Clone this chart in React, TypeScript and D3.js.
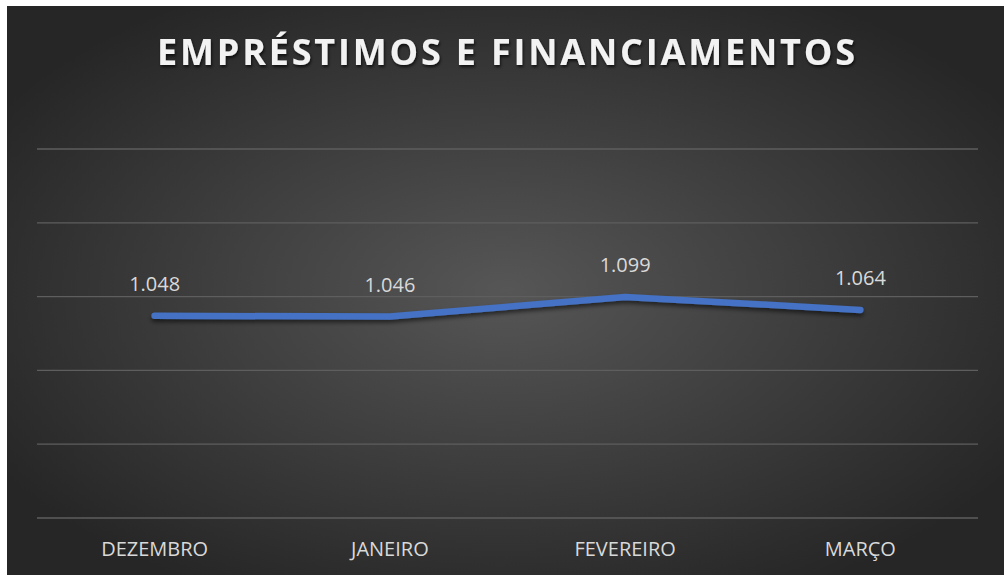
import React from "react";
import * as d3 from "d3";

const categories = ["DEZEMBRO", "JANEIRO", "FEVEREIRO", "MARÇO"];
const values = [1048, 1046, 1099, 1064];
const valueLabels = ["1.048", "1.046", "1.099", "1.064"];
const yTicks = [500, 700, 900, 1100, 1300, 1500];
const title = "EMPRÉSTIMOS E FINANCIAMENTOS";

export default function App() {
  const W = 1004, H = 575;
  const left = 37, right = 978, top = 149, bottom = 518;
  const x = d3.scaleBand<string>().domain(categories).range([left, right]);
  const y = d3.scaleLinear().domain([500, 1500]).range([bottom, top]);
  const line = d3
    .line<number>()
    .x((_, i) => (x(categories[i]) as number) + x.bandwidth() / 2)
    .y((d) => y(d));
  const font = "'Open Sans', 'Noto Sans', sans-serif";
  const tx0 = 157, tw = 698;
  return (
    <svg
      width={W}
      height={H}
      style={{ position: "absolute", left: 0, top: 0, display: "block" }}
    >
      <defs>
        <radialGradient id="bg" cx="50%" cy="50%" r="60%">
          <stop offset="0%" stopColor="#565656" />
          <stop offset="100%" stopColor="#262626" />
        </radialGradient>
        <filter id="shadow" x="-10%" y="-50%" width="120%" height="200%">
          <feDropShadow dx="0" dy="3" stdDeviation="2" floodColor="#000" floodOpacity="0.55" />
        </filter>
        <filter id="tshadow" x="-10%" y="-50%" width="120%" height="200%">
          <feDropShadow dx="1" dy="2" stdDeviation="1.5" floodColor="#000" floodOpacity="0.7" />
        </filter>
      </defs>
      <rect x={0} y={0} width={W} height={H} fill="#fff" />
      <rect x={7} y={6} width={W - 7} height={H - 6} fill="url(#bg)" />
      <text
        x={tx0}
        y={65}
        textLength={tw}
        lengthAdjust="spacing"
        fill="#f2f2f2"
        fontFamily={font}
        fontWeight={700}
        fontSize={36}
        filter="url(#tshadow)"
      >
        {title}
      </text>
      {yTicks.map((t) => (
        <line key={t} x1={left} x2={right} y1={y(t)} y2={y(t)} stroke="#5e5e5e" strokeWidth={1.3} />
      ))}
      <path
        d={line(values) || ""}
        fill="none"
        stroke="#4472C4"
        strokeWidth={6.5}
        strokeLinecap="round"
        strokeLinejoin="round"
        filter="url(#shadow)"
      />
      {values.map((v, i) => (
        <text
          key={i}
          x={(x(categories[i]) as number) + x.bandwidth() / 2}
          y={y(v) - 25}
          textAnchor="middle"
          fill="#d9d9d9"
          fontFamily={font}
          fontSize={20}
        >
          {valueLabels[i]}
        </text>
      ))}
      {categories.map((c) => (
        <text
          key={c}
          x={(x(c) as number) + x.bandwidth() / 2}
          y={556}
          textAnchor="middle"
          fill="#d9d9d9"
          fontFamily={font}
          fontSize={20}
        >
          {c}
        </text>
      ))}
    </svg>
  );
}
